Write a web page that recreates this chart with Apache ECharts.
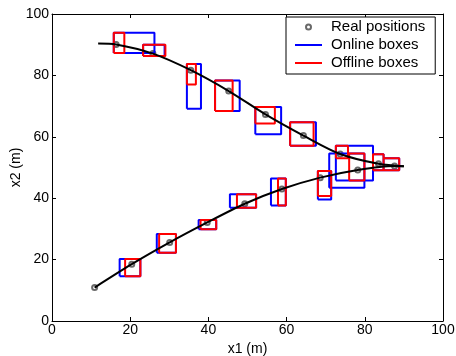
<!DOCTYPE html>
<html lang="en">

<head>
  <meta charset="utf-8">
  <title>Real positions, online and offline boxes</title>
  <style>
    html, body { margin: 0; padding: 0; background: #fff; }
    #main { width: 456px; height: 356px; }
  </style>
</head>

<body>
  <div id="main"></div>
  <script src="https://cdn.jsdelivr.net/npm/echarts@6/dist/echarts.min.js"></script>
  <script>
    // real positions, outbound leg (lower curve) and return leg (upper curve)
    var outX1 = [10.9, 20.4, 30.1, 39.7, 49.3, 58.8, 68.6, 78.2, 87.6];
    var outX2 = [10.9, 18.5, 25.6, 32.1, 38.2, 43.0, 46.7, 49.2, 50.5];
    var backX1 = [83.5, 73.7, 64.3, 54.6, 45.2, 35.5, 25.8, 16.4];
    var backX2 = [51.2, 54.4, 60.4, 67.3, 74.9, 81.7, 87.1, 90.1];
    // where the trajectory turns and where it ends
    var turnPoint = [90.0, 50.4];
    var endPoint = [11.8, 90.4];

    // boxes: [x1 min, x1 max, x2 min, x2 max]
    var onlineBoxes = [
      [17.3, 22.6, 14.6, 20.2],
      [26.8, 31.7, 22.2, 28.3],
      [37.5, 42.0, 29.9, 32.9],
      [45.5, 52.2, 36.9, 41.3],
      [56.0, 59.8, 37.6, 46.4],
      [68.0, 71.4, 39.6, 48.9],
      [70.9, 79.9, 43.4, 54.6],
      [84.8, 88.8, 49.1, 53.0],
      [82.1, 84.8, 49.1, 54.3],
      [72.6, 82.1, 45.8, 57.1],
      [60.9, 67.5, 57.1, 64.7],
      [52.0, 58.6, 60.8, 69.7],
      [41.7, 48.0, 68.4, 78.3],
      [34.5, 38.1, 69.1, 83.7],
      [23.3, 28.8, 86.3, 90.0],
      [15.8, 26.2, 87.3, 93.9]
    ];
    var offlineBoxes = [
      [18.7, 22.6, 14.6, 20.2],
      [27.4, 31.7, 22.2, 28.3],
      [38.0, 42.0, 29.9, 32.9],
      [47.3, 52.2, 36.9, 41.3],
      [57.8, 59.8, 37.6, 46.4],
      [68.0, 71.4, 40.7, 48.9],
      [76.0, 79.9, 45.8, 54.6],
      [84.8, 88.8, 49.1, 53.0],
      [82.1, 84.8, 49.1, 54.3],
      [72.6, 75.7, 53.0, 57.1],
      [60.9, 66.9, 57.1, 64.7],
      [52.0, 57.0, 64.3, 69.7],
      [41.7, 46.2, 68.4, 78.3],
      [34.5, 36.8, 77.0, 83.7],
      [23.3, 29.0, 86.3, 90.0],
      [15.8, 18.5, 87.3, 93.9]
    ];

    var fontFamily = "'Liberation Sans', Arial, sans-serif";

    function zip(a, b) {
      return a.map(function (v, i) { return [v, b[i]]; });
    }

    // each box as a closed outline, broken from the next by an empty point
    function boxOutlines(boxes) {
      var pts = [];
      boxes.forEach(function (b) {
        pts.push([b[0], b[2]], [b[1], b[2]], [b[1], b[3]], [b[0], b[3]], [b[0], b[2]], ['-', '-']);
      });
      return pts;
    }

    var realPoints = zip(outX1, outX2).concat(zip(backX1, backX2));
    var outPath = zip(outX1, outX2).concat([turnPoint]);
    var backPath = [turnPoint].concat(zip(backX1, backX2), [endPoint]);

    function axisCommon(pos, showLabel) {
      return {
        type: 'value',
        position: pos,
        min: 0,
        max: 100,
        interval: 20,
        axisLine: { show: true, onZero: false, lineStyle: { color: '#000', width: 1 } },
        axisTick: { show: true, inside: true, length: 4, lineStyle: { color: '#000' } },
        axisLabel: { show: showLabel, color: '#000', fontSize: 14, fontFamily: fontFamily },
        splitLine: { show: false }
      };
    }

    var xBottom = axisCommon('bottom', true);
    xBottom.name = 'x1 (m)';
    xBottom.nameLocation = 'middle';
    xBottom.nameGap = 21;
    xBottom.nameMoveOverlap = false;
    xBottom.nameTextStyle = { color: '#000', fontSize: 14, fontFamily: fontFamily };
    xBottom.axisLabel.margin = 2;

    var yLeft = axisCommon('left', true);
    yLeft.name = 'x2 (m)';
    yLeft.nameLocation = 'middle';
    yLeft.nameGap = 29;
    yLeft.nameMoveOverlap = false;
    yLeft.nameTextStyle = { color: '#000', fontSize: 14, fontFamily: fontFamily };
    yLeft.axisLabel.margin = 3;

    var myChart = echarts.init(document.getElementById('main'));
    var option = {
      backgroundColor: '#fff',
      animation: false,
      grid: { left: 52, right: 13, top: 14, bottom: 35, containLabel: false, outerBoundsMode: 'none' },
      xAxis: [xBottom, axisCommon('top', false)],
      yAxis: [yLeft, axisCommon('right', false)],
      legend: {
        left: 286,
        top: 17,
        orient: 'vertical',
        backgroundColor: '#fff',
        borderColor: '#000',
        borderWidth: 1,
        padding: [2, 10, 3, 8],
        itemWidth: 27,
        itemHeight: 5,
        itemGap: 2,
        textStyle: { color: '#000', fontSize: 15, lineHeight: 16, fontFamily: fontFamily, padding: [0, 0, 0, 4] },
        data: [
          'Real positions',
          { name: 'Online boxes', itemStyle: { opacity: 0 } },
          { name: 'Offline boxes', itemStyle: { opacity: 0 } }
        ]
      },
      series: [
        {
          name: 'Online boxes',
          type: 'line',
          data: boxOutlines(onlineBoxes),
          symbol: 'none',
          connectNulls: false,
          lineStyle: { color: '#0000ff', width: 2 },
          itemStyle: { color: '#0000ff' }
        },
        {
          name: 'Offline boxes',
          type: 'line',
          data: boxOutlines(offlineBoxes),
          symbol: 'none',
          connectNulls: false,
          lineStyle: { color: '#ff0000', width: 2 },
          itemStyle: { color: '#ff0000' }
        },
        {
          name: 'trajectory out',
          type: 'line',
          data: outPath,
          symbol: 'none',
          smooth: 0.3,
          lineStyle: { color: '#000', width: 2 }
        },
        {
          name: 'trajectory back',
          type: 'line',
          data: backPath,
          symbol: 'none',
          smooth: 0.3,
          lineStyle: { color: '#000', width: 2 }
        },
        {
          name: 'Real positions',
          type: 'scatter',
          data: realPoints,
          symbol: 'emptyCircle',
          symbolSize: 5,
          itemStyle: { color: '#444', borderColor: '#444', borderWidth: 1 }
        }
      ]
    };
    myChart.setOption(option);
  </script>
</body>

</html>
